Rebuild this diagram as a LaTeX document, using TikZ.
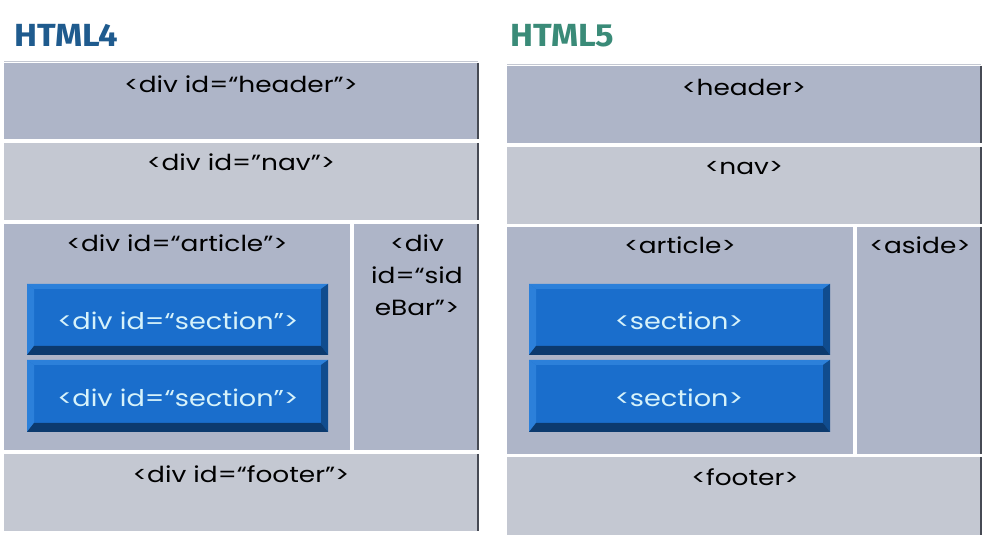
\documentclass[tikz,border=0pt]{standalone}
\usepackage{fontspec}
\setmainfont{Poppins}
\newfontfamily\titlefont{Fira Sans}
\begin{document}
\begin{tikzpicture}[x=1pt,y=1pt]
\definecolor{fillColor}{RGB}{255,255,255}
\definecolor{darkBox}{RGB}{174,181,200}
\definecolor{lightBox}{RGB}{196,200,210}
\definecolor{edgeColor}{RGB}{70,74,84}
\definecolor{secMain}{RGB}{26,110,204}
\definecolor{secLight}{RGB}{44,128,218}
\definecolor{secDark}{RGB}{16,76,142}
\definecolor{secDeep}{RGB}{12,58,110}
\definecolor{secText}{RGB}{214,242,250}
\definecolor{titleFour}{RGB}{31,91,142}
\definecolor{titleFive}{RGB}{58,139,120}
\tikzset{
  tagtext/.style={text=black,anchor=base,inner sep=0pt,outer sep=0pt,xscale=1.2,font=\fontsize{22}{32}\selectfont},
  sectext/.style={text=secText,anchor=base,inner sep=0pt,outer sep=0pt,xscale=1.18,font=\fontsize{23}{24}\selectfont},
  titletext/.style={anchor=base west,inner sep=0pt,outer sep=0pt,xscale=1.08,font=\titlefont\bfseries\fontsize{32}{34}\selectfont},
  edge/.style={draw=edgeColor,line width=1.2pt}
}
\path[use as bounding box,fill=fillColor] (0,0) rectangle (986,540);

% titles
\node[titletext,text=titleFour] (titlefour) at ( 14,493) {HTML4};
\node[titletext,text=titleFive] (titlefive) at (510,493) {HTML5};
\path[draw=lightBox,line width=0.8pt] (4,478.5) -- (478,478.5);
\path[draw=lightBox,line width=0.8pt] (507,475.5) -- (981,475.5);

% HTML4 boxes
\path[fill=darkBox] (  4,477) rectangle (478,401);
\path[fill=lightBox] (  4,397) rectangle (478,320);
\path[fill=darkBox] (  4,316) rectangle (350, 90);
\path[fill=darkBox] (354,316) rectangle (478, 90);
\path[fill=lightBox] (  4, 86) rectangle (478,  9);
\path[edge] (478,477) -- (478,401);
\path[edge] (478,397) -- (478,320);
\path[edge] (478,316) -- (478, 90);
\path[edge] (478, 86) -- (478,  9);

% HTML5 boxes
\path[fill=darkBox] (507,474) rectangle (981,397);
\path[fill=lightBox] (507,393) rectangle (981,316);
\path[fill=darkBox] (507,313) rectangle (853, 86);
\path[fill=darkBox] (857,313) rectangle (981, 86);
\path[fill=lightBox] (507, 83) rectangle (981,  5);
\path[edge] (981,474) -- (981,397);
\path[edge] (981,393) -- (981,316);
\path[edge] (981,313) -- (981, 86);
\path[edge] (981, 83) -- (981,  5);

% bevelled section boxes
\foreach \xa/\ya/\xb/\yb in {27/256/328/185, 27/180/328/108, 529/256/830/185, 529/180/830/108}{
  \path[fill=secMain] (\xa,\ya) rectangle (\xb,\yb);
  \path[fill=secLight] (\xa,\ya) -- (\xb,\ya) -- (\xb-7,\ya-5) -- (\xa+7,\ya-5) -- cycle;
  \path[fill=secLight] (\xa,\ya) -- (\xa+7,\ya-5) -- (\xa+7,\yb+9) -- (\xa,\yb) -- cycle;
  \path[fill=secDark] (\xb,\ya) -- (\xb,\yb) -- (\xb-7,\yb+9) -- (\xb-7,\ya-5) -- cycle;
  \path[fill=secDeep] (\xa,\yb) -- (\xb,\yb) -- (\xb-7,\yb+9) -- (\xa+7,\yb+9) -- cycle;
}

% HTML4 labels
\node[tagtext] (divheader) at (241,447) {<div id=“header">};
\node[tagtext] (divnav) at (241,369) {<div id="nav">};
\node[tagtext] (divarticle) at (177,288) {<div id=“article">};
\node[tagtext] (divsideone) at (417,288) {<div};
\node[tagtext] (divsidetwo) at (417,256) {id=“sid};
\node[tagtext] (divsidethree) at (417,224) {eBar">};
\node[sectext] (divsecone) at (178,210) {<div id=“section">};
\node[sectext] (divsectwo) at (178,133) {<div id=“section">};
\node[tagtext] (divfooter) at (241, 57) {<div id=“footer">};

% HTML5 labels
\node[tagtext] (tagheader) at (744,444) {<header>};
\node[tagtext] (tagnav) at (744,365) {<nav>};
\node[tagtext] (tagarticle) at (680,286) {<article>};
\node[tagtext] (tagaside) at (920,286) {<aside>};
\node[sectext] (tagsecone) at (679,210) {<section>};
\node[sectext] (tagsectwo) at (679,133) {<section>};
\node[tagtext] (tagfooter) at (745, 54) {<footer>};
\end{tikzpicture}
\end{document}
